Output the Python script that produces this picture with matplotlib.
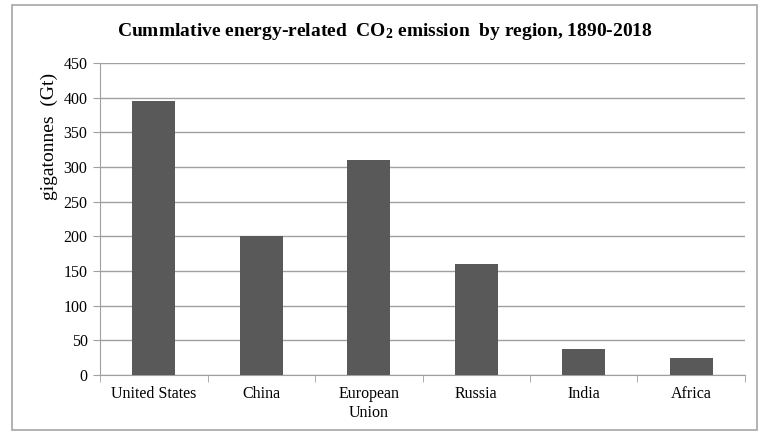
import matplotlib.pyplot as plt
from matplotlib.patches import Rectangle
import numpy as np

# data
regions = ['United States', 'China', 'European\nUnion', 'Russia', 'India', 'Africa']
emissions = [395, 200, 310, 160, 38, 24]
yticks = [0, 50, 100, 150, 200, 250, 300, 350, 400, 450]

plt.rcParams['font.family'] = ['Liberation Serif', 'DejaVu Serif']
plt.rcParams['mathtext.default'] = 'regular'

fig = plt.figure(figsize=(7.7, 4.47), dpi=100)
# outer chart border
fig.patches.append(Rectangle((12 / 770, 1 - 430 / 447), 745 / 770, 425 / 447,
                             transform=fig.transFigure, fill=False,
                             edgecolor='#a6a6a6', linewidth=1.2))

ax = fig.add_axes([0.130, 0.161, 0.8375, 0.698])
x = np.arange(len(regions))
ax.bar(x, emissions, width=0.4, color='#595959', zorder=3)

ax.set_xlim(-0.5, len(regions) - 0.5)
ax.set_ylim(0, 450)
ax.set_yticks(yticks)
ax.yaxis.grid(True, color='#a0a0a0', linewidth=1, zorder=0)
ax.tick_params(axis='y', length=5, color='#a0a0a0', labelsize=11.5, pad=4)

ax.set_xticks(x)
ax.set_xticklabels(regions, fontsize=11.5)
ax.tick_params(axis='x', length=0, pad=8)
ax.set_xticks(np.arange(len(regions) + 1) - 0.5, minor=True)
ax.tick_params(axis='x', which='minor', length=5, color='#a0a0a0')

for s in ['top', 'right']:
    ax.spines[s].set_visible(False)
for s in ['left', 'bottom']:
    ax.spines[s].set_color('#a0a0a0')

ax.set_ylabel('gigatonnes  (Gt)', fontsize=14, labelpad=2)
ax.yaxis.set_label_coords(-0.066, 0.765)

fig.text(0.5, 1 - 32 / 447, 'Cummlative energy-related  CO$_2$ emission  by region, 1890-2018',
         ha='center', va='center', fontsize=14, fontweight='bold')

fig.savefig('out.png', dpi=100)
